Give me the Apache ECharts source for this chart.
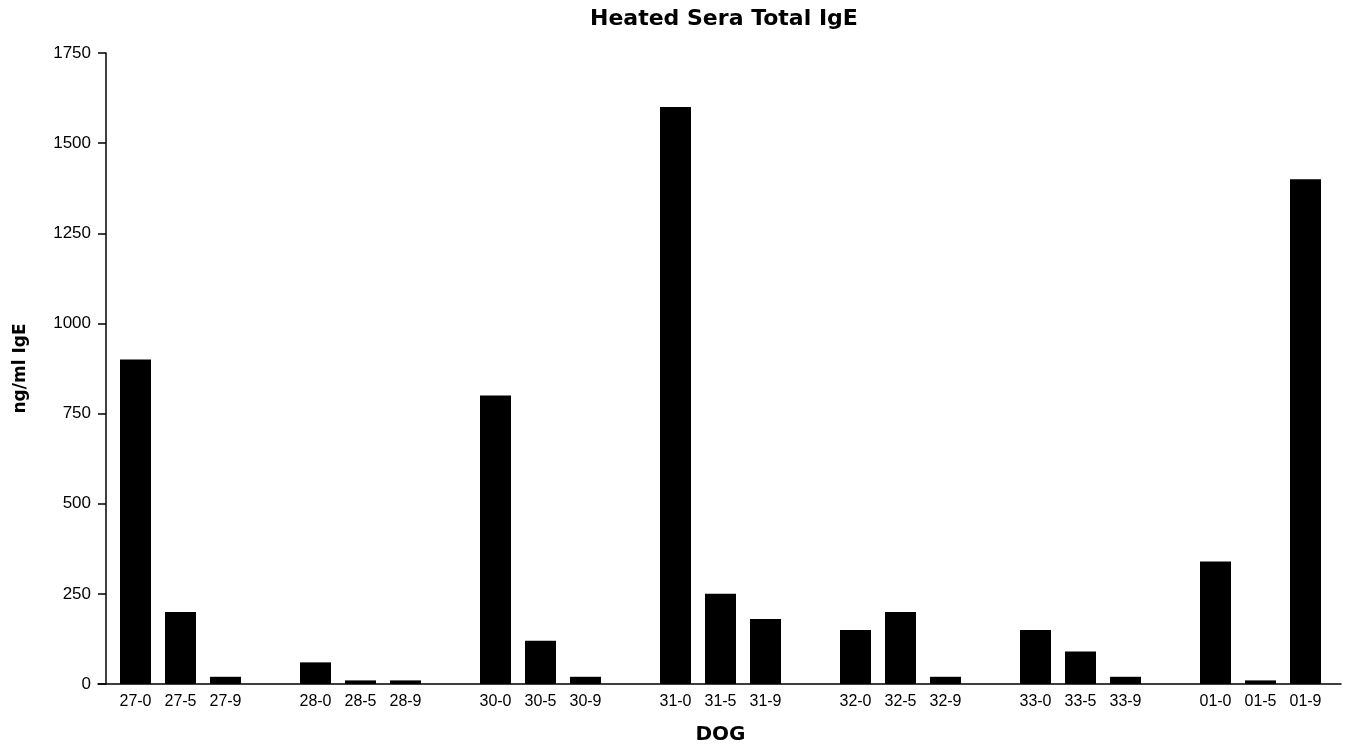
<!DOCTYPE html>
<html>
<head>
<meta charset="utf-8">
<script src="https://cdn.jsdelivr.net/npm/echarts@6/dist/echarts.min.js"></script>
<style>html,body{margin:0;padding:0;background:#fff}#c{width:1346px;height:744px}</style>
</head>
<body>
<div id="c"></div>
<script>
const categories = ['27-0','27-5','27-9','','28-0','28-5','28-9','','30-0','30-5','30-9','','31-0','31-5','31-9','','32-0','32-5','32-9','','33-0','33-5','33-9','','01-0','01-5','01-9'];
const values = [900,200,20,'-',60,10,10,'-',800,120,20,'-',1600,250,180,'-',150,200,20,'-',150,90,20,'-',340,10,1400];
const yTicks = {min:0, max:1750, interval:250};

const font = 'Liberation Sans, Arial, Helvetica, sans-serif';
const wide = 'DejaVu Sans, Verdana, sans-serif';
const chart = echarts.init(document.getElementById('c'), null, {renderer:'canvas'});
chart.setOption({
  animation:false,
  backgroundColor:'#fff',
  title:{text:'Heated Sera Total IgE', left:585, top:3,
    textStyle:{fontFamily:wide, fontWeight:'bold', fontSize:22, color:'#000'}},
  grid:[
    {left:113, right:18, top:53, bottom:60, outerBoundsMode:'none', containLabel:false},
    {left:98, right:5, top:53, bottom:60, outerBoundsMode:'none', containLabel:false}
  ],
  xAxis:[
    {type:'category', gridIndex:0, data:categories,
     axisLine:{show:false}, axisTick:{show:false},
     axisLabel:{interval:0, margin:10, color:'#000', fontFamily:font, fontSize:16},
     name:'DOG', nameLocation:'middle', nameGap:41,
     nameTextStyle:{fontFamily:wide, fontWeight:'bold', fontSize:20, color:'#000'}},
    {type:'value', gridIndex:1, min:0, max:1, axisLine:{show:true, lineStyle:{color:'#000', width:1.5}},
     axisTick:{show:false}, axisLabel:{show:false}, splitLine:{show:false}}
  ],
  yAxis:[
    {type:'value', gridIndex:0, min:yTicks.min, max:yTicks.max, interval:yTicks.interval, offset:7,
     axisLine:{show:true, lineStyle:{color:'#000', width:1.5}},
     axisTick:{show:true, length:8, lineStyle:{color:'#000', width:1.5}},
     axisLabel:{margin:15, color:'#000', fontFamily:font, fontSize:17, formatter:v => String(v)},
     splitLine:{show:false},
     name:'ng/ml IgE', nameLocation:'middle', nameGap:77,
     nameTextStyle:{fontFamily:wide, fontWeight:'bold', fontSize:17, color:'#000'}},
    {type:'value', gridIndex:1, show:false, min:0, max:1}
  ],
  series:[{type:'bar', xAxisIndex:0, yAxisIndex:0, data:values, barWidth:31,
    itemStyle:{color:'#000'}}]
});
</script>
</body>
</html>
